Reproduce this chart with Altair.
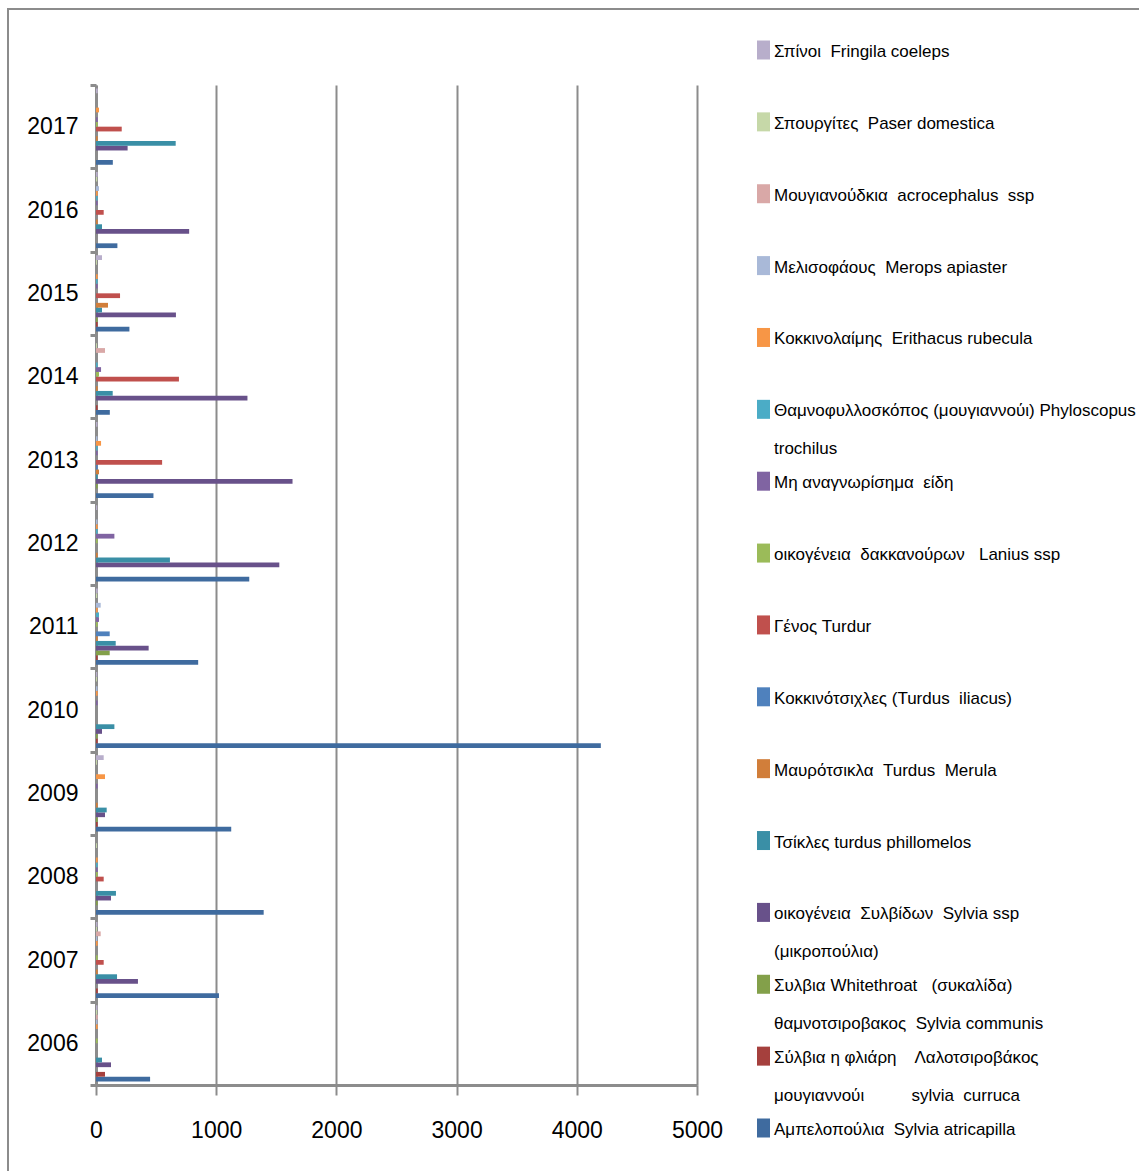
import altair as alt
import pandas as pd

# Years on the category axis (bottom to top)
years = [2006, 2007, 2008, 2009, 2010, 2011, 2012, 2013, 2014, 2015, 2016, 2017]

# Counts per species, one value per year (2006..2017)
ampelopoulia = [450, 1023, 1395, 1125, 4200, 850, 1275, 478, 115, 278, 178, 140]
sylvia_fliari = [75, 15, 0, 14, 14, 14, 0, 0, 14, 14, 0, 0]
sylvia_whitethroat = [0, 0, 14, 14, 14, 114, 0, 14, 0, 14, 0, 0]
sylvidon = [125, 349, 125, 75, 50, 438, 1525, 1635, 1260, 665, 775, 263]
tsikles = [50, 175, 166, 89, 153, 164, 615, 14, 139, 50, 50, 663]
mavrotsikla = [0, 14, 0, 14, 0, 14, 14, 25, 14, 100, 14, 14]
kokkinotsixles = [0, 0, 0, 0, 0, 114, 0, 14, 0, 0, 0, 0]
genos_turdur = [0, 64, 64, 0, 0, 0, 0, 550, 690, 200, 64, 214]
lanius = [14, 14, 14, 0, 0, 14, 14, 0, 25, 0, 0, 14]
mi_anagnorisima = [0, 0, 14, 14, 14, 25, 153, 14, 42, 14, 14, 14]
thamnofylloskopos = [0, 0, 14, 0, 0, 25, 14, 14, 14, 14, 14, 0]
kokkinolaimis = [14, 14, 14, 75, 14, 14, 14, 42, 0, 14, 14, 25]
melisofaous = [12, 10, 0, 0, 12, 39, 12, 12, 0, 0, 25, 0]
mougianoudkia = [15, 39, 0, 0, 0, 0, 0, 0, 75, 0, 0, 0]
spourgites = [10, 8, 8, 8, 8, 10, 0, 0, 8, 8, 10, 0]
spinoi = [12, 12, 0, 64, 10, 14, 10, 12, 0, 50, 14, 14]

# Series in plotting order (first one sits at the bottom of each year group)
series_names = [
    "Αμπελοπούλια Sylvia atricapilla",
    "Σύλβια η φλιάρη Λαλοτσιροβάκος μουγιαννούι sylvia curruca",
    "Συλβια Whitethroat (συκαλίδα) θαμνοτσιροβακος Sylvia communis",
    "οικογένεια Συλβίδων Sylvia ssp (μικροπούλια)",
    "Τσίκλες turdus phillomelos",
    "Μαυρότσικλα Turdus Merula",
    "Κοκκινότσιχλες (Turdus iliacus)",
    "Γένος Turdur",
    "οικογένεια δακκανούρων Lanius ssp",
    "Μη αναγνωρίσημα είδη",
    "Θαμνοφυλλοσκόπος (μουγιαννούι) Phyloscopus trochilus",
    "Κοκκινολαίμης Erithacus rubecula",
    "Μελισοφάους Merops apiaster",
    "Μουγιανούδκια acrocephalus ssp",
    "Σπουργίτες Paser domestica",
    "Σπίνοι Fringila coeleps",
]
series_values = [
    ampelopoulia, sylvia_fliari, sylvia_whitethroat, sylvidon, tsikles,
    mavrotsikla, kokkinotsixles, genos_turdur, lanius, mi_anagnorisima,
    thamnofylloskopos, kokkinolaimis, melisofaous, mougianoudkia,
    spourgites, spinoi,
]
series_colors = [
    "#3F6B9F", "#A5403D", "#83A04A", "#68518A", "#3A8FA6", "#D17E3A",
    "#4F81BD", "#C0504D", "#9BBB59", "#8064A2", "#4BACC6", "#F79646",
    "#A9B9D8", "#D9A8A7", "#C6D8A8", "#B8AECB",
]

NB = "\u00a0"
# Legend texts as printed next to the swatches ("\n" starts a new line)
legend_texts = [
    f"{NB}Αμπελοπούλια{NB} Sylvia atricapilla",
    f"{NB}Σύλβια η φλιάρη{NB}{NB}{NB} Λαλοτσιροβάκος\nμουγιαννούι{NB}{NB}{NB}{NB}{NB}{NB}{NB}{NB}{NB} sylvia{NB} curruca",
    f"{NB}Συλβια Whitethroat{NB}{NB} (συκαλίδα)\nθαμνοτσιροβακος{NB} Sylvia communis",
    f"οικογένεια{NB} Συλβίδων{NB} Sylvia ssp\n(μικροπούλια)",
    "Τσίκλες turdus phillomelos",
    f"{NB}{NB}{NB}Μαυρότσικλα{NB} Turdus{NB} Merula",
    f"Κοκκινότσιχλες{NB}(Turdus{NB} iliacus)",
    "Γένος Turdur",
    f"οικογένεια{NB} δακκανούρων{NB}{NB} Lanius ssp",
    f"Μη αναγνωρίσημα{NB} είδη",
    "Θαμνοφυλλοσκόπος (μουγιαννούι) Phyloscopus\ntrochilus",
    f"Κοκκινολαίμης{NB} Erithacus rubecula",
    f"Μελισοφάους{NB} Merops apiaster",
    f"Μουγιανούδκια{NB} acrocephalus{NB} ssp",
    f"Σπουργίτες{NB} Paser domestica",
    f"Σπίνοι{NB} Fringila coeleps",
]

rows = []
for name, vals in zip(series_names, series_values):
    for yr, v in zip(years, vals):
        rows.append({"year": yr, "series": name, "count": v})
bars_df = pd.DataFrame(rows)

legend_df = pd.DataFrame({"series": series_names, "text": legend_texts})

top_to_bottom = list(reversed(series_names))
FONT = "Liberation Sans, Arial, sans-serif"
GRAY = "#8C8C8C"

color_scale = alt.Scale(domain=series_names, range=series_colors)

bars = alt.Chart(bars_df).mark_bar().encode(
    x=alt.X(
        "count:Q",
        scale=alt.Scale(domain=[0, 5000], nice=False),
        axis=alt.Axis(
            values=[0, 1000, 2000, 3000, 4000, 5000],
            format="d",
            title=None,
            grid=True,
            gridColor=GRAY,
            gridWidth=2,
            domainColor=GRAY,
            domainWidth=3,
            tickColor=GRAY,
            tickWidth=2,
            tickSize=10,
            labelPadding=24,
            labelFlush=False,
            labelFont=FONT,
            labelFontSize=23,
            labelColor="#000000",
        ),
    ),
    y=alt.Y(
        "year:O",
        sort="descending",
        scale=alt.Scale(paddingInner=0, paddingOuter=0),
        axis=alt.Axis(
            title=None,
            tickBand="extent",
            domainColor=GRAY,
            domainWidth=3,
            tickColor=GRAY,
            tickWidth=3,
            tickSize=6,
            labelPadding=12,
            labelFont=FONT,
            labelFontSize=23,
            labelColor="#000000",
        ),
    ),
    yOffset=alt.YOffset(
        "series:N",
        sort=top_to_bottom,
        scale=alt.Scale(paddingInner=0, paddingOuter=0.75),
    ),
    color=alt.Color("series:N", scale=color_scale, legend=None),
)

# Hand-placed legend: swatches and labels on their own point scale
legend_y = alt.Y(
    "series:N",
    sort=top_to_bottom,
    scale=alt.Scale(type="point", domain=top_to_bottom, range=[-35, 1043], padding=0),
    axis=None,
)
swatches = alt.Chart(legend_df).mark_point(
    shape="M-0.684,-1L0.684,-1L0.684,1L-0.684,1Z",
    filled=True,
    opacity=1,
    size=361,
).encode(
    x=alt.value(667.5),
    y=legend_y,
    color=alt.Color("series:N", scale=color_scale, legend=None),
)
labels = alt.Chart(legend_df).mark_text(
    align="left",
    baseline="alphabetic",
    dy=7,
    font=FONT,
    fontSize=17,
    lineBreak="\n",
    lineHeight=38,
    color="#000000",
).encode(
    x=alt.value(678),
    y=legend_y,
    text="text:N",
)

frame = alt.Chart(pd.DataFrame({"k": [0]})).mark_rect(
    fill="#ffffff", fillOpacity=0, stroke=GRAY, strokeWidth=2
).encode(
    x=alt.value(-88), x2=alt.value(1060), y=alt.value(-76), y2=alt.value(1100)
)

chart = alt.layer(frame, bars, swatches, labels).resolve_scale(
    y="independent"
).properties(
    width=601,
    height=1000,
    autosize=alt.AutoSizeParams(type="none"),
    padding={"left": 96, "top": 85, "right": 442, "bottom": 86},
    background="#ffffff",
).configure_view(stroke=None)

chart.save("out.html", embed_options={"renderer": "svg", "actions": False})
